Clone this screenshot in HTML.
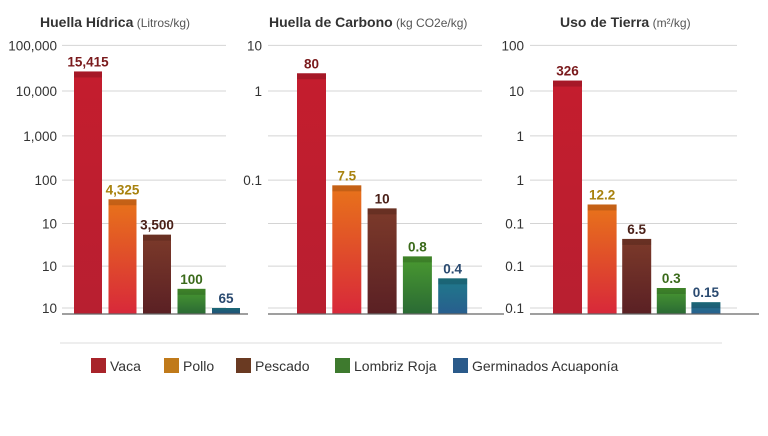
<!DOCTYPE html>
<html><head><meta charset="utf-8"><style>
body{margin:0;background:#fff;width:768px;height:431px;overflow:hidden;font-family:"Liberation Sans",sans-serif}
</style></head><body>
<svg id="c" width="768" height="431" xmlns="http://www.w3.org/2000/svg">
<defs>
<linearGradient id="gV" x1="0" y1="0" x2="0" y2="1"><stop offset="0" stop-color="#c41d2e"/><stop offset="1" stop-color="#b81f30"/></linearGradient>
<linearGradient id="gP" x1="0" y1="0" x2="0" y2="1"><stop offset="0" stop-color="#e8741a"/><stop offset="1" stop-color="#d8283a"/></linearGradient>
<linearGradient id="gF" x1="0" y1="0" x2="0" y2="1"><stop offset="0" stop-color="#7c3a2a"/><stop offset="1" stop-color="#5a2024"/></linearGradient>
<linearGradient id="gL" x1="0" y1="0" x2="0" y2="1"><stop offset="0" stop-color="#4a9a30"/><stop offset="1" stop-color="#2a6a34"/></linearGradient>
<linearGradient id="gG" x1="0" y1="0" x2="0" y2="1"><stop offset="0" stop-color="#1f7a8a"/><stop offset="1" stop-color="#285e8e"/></linearGradient>
</defs>
</svg>
<script>
const categories=["Vaca","Pollo","Pescado","Lombriz Roja","Germinados Acuaponía"];
const waterLabels=["15,415","4,325","3,500","100","65"];
const waterLevels=[5.43,2.56,1.74,0.46,0];
const carbonLabels=["80","7.5","10","0.8","0.4"];
const carbonLevels=[5.39,2.88,2.35,1.23,0.71];
const landLabels=["326","12.2","6.5","0.3","0.15"];
const landLevels=[5.23,2.44,1.64,0.48,0.14];
const waterTicks=["10","10","10","100","1,000","10,000","100,000"];
const carbonTicks=["","","","0.1","","1","10"];
const landTicks=["0.1","0.1","0.1","1","1","10","100"];
const fills=["url(#gV)","url(#gP)","url(#gF)","url(#gL)","url(#gG)"];
const labelColors=["#7a1a1c","#a8820e","#4a2018","#3a6a1a","#2a4a70"];
const legendColors=["#a8242a","#c07a1a","#6a3a22","#3e7a2e","#2a5a8a"];
const svg=document.getElementById('c');
const NS="http://www.w3.org/2000/svg";
function mk(t,a,txt){const e=document.createElementNS(NS,t);for(const k in a)e.setAttribute(k,a[k]);if(txt!==undefined)e.textContent=txt;svg.appendChild(e);return e;}
function y(level){return 308-level*41.5-level*level*0.38;}
const panels=[
 {title:"Huella Hídrica",unit:" (Litros/kg)",tx:40,gx0:62,gx1:226,lx:57,bx:74,step:34.5,bw:28,labels:waterLabels,levels:waterLevels,ticks:waterTicks,key:"water"},
 {title:"Huella de Carbono",unit:" (kg CO2e/kg)",tx:269,gx0:268,gx1:482,lx:262,bx:297,step:35.3,bw:29,labels:carbonLabels,levels:carbonLevels,ticks:carbonTicks,key:"carbon"},
 {title:"Uso de Tierra",unit:" (m²/kg)",tx:560,gx0:530,gx1:737,lx:524,bx:553,step:34.6,bw:29,labels:landLabels,levels:landLevels,ticks:landTicks,key:"land"}
];
panels.forEach(p=>{
 const t=mk('text',{x:p.tx,y:27,'font-size':14,'font-weight':'bold',fill:'#333'});
 
 
 t.textContent=p.title;
 const u=document.createElementNS(NS,'tspan');u.setAttribute('font-weight','normal');u.setAttribute('font-size',12);u.setAttribute('fill','#555');u.textContent=p.unit;t.appendChild(u);
 p.ticks.forEach((lab,i)=>{
  const g=mk('line',{x1:p.gx0,x2:p.gx1,y1:y(i),y2:y(i),stroke:'#d4d4d4','stroke-width':1});
  
  
  if(lab){const tl=mk('text',{x:p.lx,y:y(i)+5,'font-size':13.5,'text-anchor':'end',fill:'#333'},lab);
  
  }
 });
 p.levels.forEach((lv,i)=>{
  const x=p.bx+i*p.step, top=y(lv);
  const r=mk('rect',{x:x,y:top,width:p.bw,height:314-top,fill:fills[i]});
  
  
  mk('rect',{x:x,y:top,width:p.bw,height:Math.min(6,314-top),fill:'rgba(0,0,0,0.15)'});
  const l=mk('text',{x:x+p.bw/2,y:top-5,'font-size':13.5,'font-weight':'bold','text-anchor':'middle',fill:labelColors[i]},p.labels[i]);
  
  
 });
 const b=mk('line',{x1:p.gx0,x2:p.gx1+22,y1:314,y2:314,stroke:'#666','stroke-width':1.2});
 
 
});
const sep=mk('line',{x1:60,x2:722,y1:343,y2:343,stroke:'#ddd','stroke-width':1});


const lgx=[91,164,236,335,453];
categories.forEach((c,i)=>{
 const s=mk('rect',{x:lgx[i],y:358,width:15,height:15,fill:legendColors[i]});
 
 
 const t=mk('text',{x:lgx[i]+19,y:371,'font-size':14,fill:'#333'},c);
 
 
});
</script>
</body></html>
